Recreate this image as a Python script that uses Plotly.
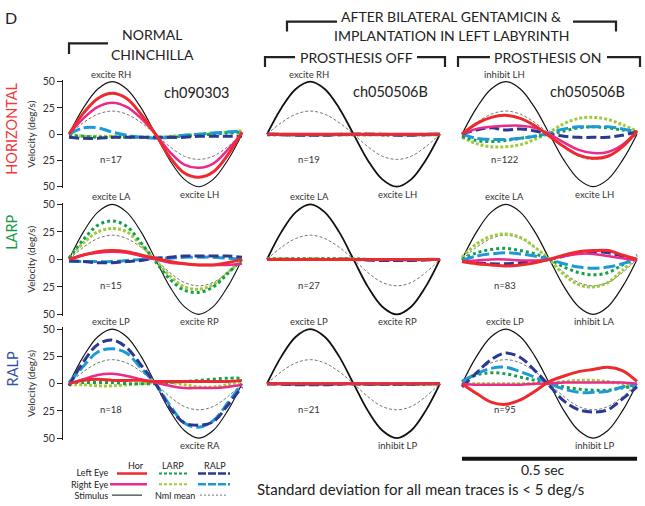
import plotly.graph_objects as go

W, H = 645, 506
FONT = "Lato"

# ---------------- data (deg/s), one full 2 Hz cycle ----------------
T = [0, 0.0417, 0.0833, 0.125, 0.1667, 0.2083, 0.25, 0.2917, 0.3333, 0.375, 0.4167, 0.4583, 0.5]
STIMULUS = [0, 25, 43, 50, 43, 25, 0, -25, -43, -50, -43, -25, 0]
NML_MEAN = [0, 11, 19, 22, 19, 11, 0, -12, -21, -24, -21, -12, 0]

# Row HORIZONTAL -- normal chinchilla
H_NORM_L_HOR = [0, 20, 34, 39, 34, 19, 0, -22, -37, -41, -36, -20, 2]
H_NORM_R_HOR = [0, 15, 26, 30, 26, 15, 0, -17, -29, -32, -28, -15, 1]
H_NORM_L_LARP = [-1, -2, -3, -3, -3, -3, -3, -3, -2, -1, 0, 1, 2]
H_NORM_R_LARP = [0, -2, -2, -2, -2, -3, -3, -2, -1, 0, 1, 2, 3]
H_NORM_L_RALP = [-3, -4, -4, -3, -3, -3, -3, -3, -3, -2, -2, -2, -2]
H_NORM_R_RALP = [0, 6, 6, 2, -1, -3, -4, -3, -1, 0, 1, 2, 3]
# Row HORIZONTAL -- prosthesis off
H_OFF_L_HOR = [0, 0, 0, 0, 0, 0, 0, 0, 0, 0, 0, 0, 0]
H_OFF_R_HOR = [0, 0, 0, 0, 0, 0, 0, 0, 0, 0, 0, 0, 0]
H_OFF_L_LARP = [-0.5, -0.5, -0.5, -0.5, -0.5, -0.5, -0.5, -0.5, -0.5, -0.5, -0.5, -0.5, -0.5]
H_OFF_R_LARP = [-0.5, -0.5, -0.5, -0.5, -0.5, -0.5, -0.5, -0.5, -0.5, -0.5, -0.5, -0.5, -0.5]
H_OFF_L_RALP = [0, -0.5, -1, -1, -1, -0.5, 0, 0, -0.5, -1, -1, -0.5, 0]
H_OFF_R_RALP = [0, 0, -0.5, -0.5, -0.5, 0, 0, 0, 0, -0.5, -0.5, 0, 0]
# Row HORIZONTAL -- prosthesis on
H_ON_L_HOR = [0, 10, 16, 18, 15, 8, -2, -12, -20, -23, -21, -12, 3]
H_ON_R_HOR = [0, 5, 7, 8, 8, 6, 0, -8, -15, -18, -17, -10, 3]
H_ON_L_LARP = [-2, -6, -7, -6, -4, -2, 0, 3, 6, 7, 6, 4, 2]
H_ON_R_LARP = [-3, -9, -12, -12, -10, -5, 2, 10, 15, 16, 14, 9, 3]
H_ON_L_RALP = [0, 4, 6, 4, 5, 3, 0, -2, -3, -3, -3, -1, 2]
H_ON_R_RALP = [0, -4, -5, -5, -4, -2, 1, 5, 7, 7, 7, 5, 2]

# Row LARP -- normal chinchilla
L_NORM_L_HOR = [0, 4, 7, 8, 7, 4, 1, -2, -4, -5, -5, -3, 0]
L_NORM_R_HOR = [0, 4, 6, 7, 6, 3, 0, -3, -4, -5, -5, -5, -4]
L_NORM_L_LARP = [1, 18, 31, 35, 30, 15, -2, -18, -28, -30, -25, -13, 0]
L_NORM_R_LARP = [1, 15, 25, 28, 25, 13, -1, -15, -25, -27, -23, -12, 0]
L_NORM_L_RALP = [-1, -2, -3, -3, -2, -1, 1, 2, 3, 3, 3, 3, 2]
L_NORM_R_RALP = [-2, -2, -2, -2, -1, 0, 1, 1, 2, 2, 2, 1, 0]
# Row LARP -- prosthesis off
L_OFF_L_HOR = [0, 0, 0, 0, 0, 0, 0, 0, 0, 0, 0, 0, 0]
L_OFF_R_HOR = [0, 0, 0, 0, 0, 0, 0, 0, 0, 0, 0, 0, 0]
L_OFF_L_LARP = [0.5, 0.5, 0.5, 0.5, 0.5, 0.5, 0.5, 0, 0, 0, 0, 0, 0]
L_OFF_R_LARP = [0.5, 0.5, 0.5, 0.5, 0.5, 0.5, 0.5, 0, 0, 0, 0, 0, 0]
L_OFF_L_RALP = [0, 0, 0, 0, 0, 0, 0, -0.5, -1, -1, -1, -0.5, 0]
L_OFF_R_RALP = [0, 0, 0, 0, 0, 0, 0, -0.5, -0.5, -0.5, -0.5, 0, 0]
# Row LARP -- prosthesis on
L_ON_L_HOR = [-2, -4, -5, -6, -5, -3, 0, 4, 7, 8, 8, 4, 0]
L_ON_R_HOR = [-2, -1, 0, 0, -1, -1, 0, 3, 5, 5, 3, 1, -1]
L_ON_L_LARP = [0, 6, 9, 10, 8, 5, 0, -7, -12, -14, -12, -5, 4]
L_ON_R_LARP = [2, 14, 21, 23, 20, 11, 0, -14, -23, -25, -21, -10, 2]
L_ON_L_RALP = [-2, -3, -4, -4, -3, -2, 0, 3, 6, 7, 6, 3, 0]
L_ON_R_RALP = [-1, 3, 5, 6, 5, 3, 0, -4, -7, -8, -7, -4, 0]

# Row RALP -- normal chinchilla
R_NORM_L_HOR = [0, 3, 4, 3, 3, 3, 2, 2, 2, 2, 2, 2, 3]
R_NORM_R_HOR = [0, 4, 8, 9, 7, 4, 1, -2, -4, -4, -4, -3, -1]
R_NORM_L_LARP = [1, 1, 1, 1, 0, 0, 0, 1, 2, 3, 4, 5, 5]
R_NORM_R_LARP = [-1, -1, -2, -2, -1, 0, 1, 1, -1, -3, -3, -1, 2]
R_NORM_L_RALP = [-2, 20, 36, 40, 33, 17, 0, -22, -36, -38, -35, -20, -3]
R_NORM_R_RALP = [1, 16, 29, 32, 28, 14, 0, -20, -36, -40, -34, -18, 0]
# Row RALP -- prosthesis off
R_OFF_L_HOR = [0, 0, 0, 0, 0, 0, 0, 0, 0, 0, 0, 0, 0]
R_OFF_R_HOR = [0, 0, 0, 0, 0, 0, 0, 0, 0, 0, 0, 0, 0]
R_OFF_L_LARP = [0, 0, 0, 0, 0, 0, 0, -0.5, -0.5, -0.5, -0.5, -0.5, 0]
R_OFF_R_LARP = [0, 0, 0, 0, 0, 0, 0, -0.5, -0.5, -0.5, -0.5, -0.5, 0]
R_OFF_L_RALP = [0, -0.5, -1, -1, -1, -0.5, 0, -0.5, -0.5, -0.5, -0.5, 0, 0]
R_OFF_R_RALP = [0, 0, -0.5, -0.5, -0.5, 0, 0, 0, 0, 0, 0, 0, 0]
# Row RALP -- prosthesis on
R_ON_L_HOR = [0, -9, -17, -19, -15, -7, 2, 7, 11, 13, 15, 12, 2]
R_ON_R_HOR = [0, -1, -1, -1, -1, 0, 0, 1, 1, 1, 1, 1, 0]
R_ON_L_LARP = [2, 8, 10, 9, 6, 3, 0, -3, -5, -6, -6, -4, -2]
R_ON_R_LARP = [0, 0, 0, 0, 0, 0, 0, 2, 3, 3, 2, 0, -2]
R_ON_L_RALP = [-3, 10, 22, 28, 24, 12, -2, -16, -24, -26, -24, -14, -3]
R_ON_R_RALP = [2, 9, 14, 15, 11, 6, 0, -5, -8, -8, -7, -3, -1]

Y_TICK_VALUES = [50, 25, 0, -25, -50]
Y_TICK_LABELS = ["50", "25", "0", "25", "50"]

PANELS = [
    # (row, col, traces [lhor, rhor, llarp, rlarp, lralp, rralp], top label, bottom label, n label)
    (0, 0, [H_NORM_L_HOR, H_NORM_R_HOR, H_NORM_L_LARP, H_NORM_R_LARP, H_NORM_L_RALP, H_NORM_R_RALP], "excite RH", "excite LH", "n=17"),
    (0, 1, [H_OFF_L_HOR, H_OFF_R_HOR, H_OFF_L_LARP, H_OFF_R_LARP, H_OFF_L_RALP, H_OFF_R_RALP], "excite RH", "excite LH", "n=19"),
    (0, 2, [H_ON_L_HOR, H_ON_R_HOR, H_ON_L_LARP, H_ON_R_LARP, H_ON_L_RALP, H_ON_R_RALP], "inhibit LH", "excite LH", "n=122"),
    (1, 0, [L_NORM_L_HOR, L_NORM_R_HOR, L_NORM_L_LARP, L_NORM_R_LARP, L_NORM_L_RALP, L_NORM_R_RALP], "excite LA", "excite RP", "n=15"),
    (1, 1, [L_OFF_L_HOR, L_OFF_R_HOR, L_OFF_L_LARP, L_OFF_R_LARP, L_OFF_L_RALP, L_OFF_R_RALP], "excite LA", "excite RP", "n=27"),
    (1, 2, [L_ON_L_HOR, L_ON_R_HOR, L_ON_L_LARP, L_ON_R_LARP, L_ON_L_RALP, L_ON_R_RALP], "excite LA", "inhibit LA", "n=83"),
    (2, 0, [R_NORM_L_HOR, R_NORM_R_HOR, R_NORM_L_LARP, R_NORM_R_LARP, R_NORM_L_RALP, R_NORM_R_RALP], "excite LP", "excite RA", "n=18"),
    (2, 1, [R_OFF_L_HOR, R_OFF_R_HOR, R_OFF_L_LARP, R_OFF_R_LARP, R_OFF_L_RALP, R_OFF_R_RALP], "excite LP", "inhibit LP", "n=21"),
    (2, 2, [R_ON_L_HOR, R_ON_R_HOR, R_ON_L_LARP, R_ON_R_LARP, R_ON_L_RALP, R_ON_R_RALP], "excite LP", "inhibit LP", "n=95"),
]

# ---------------- styles ----------------
RED, PINK = "#ee2a2e", "#ec2a8a"
DKGREEN, LTGREEN = "#13a04b", "#9dcb3c"
NAVY, SKY = "#2b3990", "#1d9ad6"
STYLES = [  # same order as traces in PANELS
    dict(color=RED, width=3, dash="solid"),
    dict(color=PINK, width=2.5, dash="solid"),
    dict(color=DKGREEN, width=3, dash="3px,3px"),
    dict(color=LTGREEN, width=3, dash="3px,2px"),
    dict(color=NAVY, width=3, dash="10px,4px"),
    dict(color=SKY, width=3, dash="12px,4px"),
]
DRAW_ORDER = [3, 2, 5, 4, 1, 0]

# pixel layout
COL_X = [(69, 242), (267, 440), (462, 637)]     # x pixels of t=0 .. t=0.5
ROW_Y = [(78, 185), (203, 315), (330, 441)]     # y pixels of +50 .. -50
STIM_W = [1.1, 1.8, 1.2]
PAD_T = 0.01
PAD_V = 1.5

def pxx(x):
    return x / W

def pxy(y):
    return 1 - y / H

fig = go.Figure()
layout = {}
annotations = []

for idx, (r, c, traces, top_lbl, bot_lbl, n_lbl) in enumerate(PANELS):
    k = idx + 1
    xa, ya = f"x{k}", f"y{k}"
    x0, x1 = COL_X[c]
    y50, ym50 = ROW_Y[r]
    sx = (x1 - x0) / 0.5
    sy = (ym50 - y50) / 100.0
    dx0 = pxx(x0 - PAD_T * sx)
    dx1 = pxx(x1 + PAD_T * sx)
    dy0 = pxy(ym50 + PAD_V * sy)
    dy1 = pxy(y50 - PAD_V * sy)
    layout[f"xaxis{k}"] = dict(domain=[dx0, dx1], range=[-PAD_T, 0.5 + PAD_T], visible=False,
                               anchor=ya, fixedrange=True)
    yax = dict(domain=[dy0, dy1], range=[-50 - PAD_V, 50 + PAD_V], anchor=xa,
               showgrid=False, zeroline=False, fixedrange=True)
    if c == 0:
        yax.update(anchor="free", position=pxx(62), showline=True, linecolor="#222", linewidth=1,
                   ticks="outside", ticklen=5, tickcolor="#222", tickwidth=1,
                   tickvals=Y_TICK_VALUES, ticktext=Y_TICK_LABELS,
                   tickfont=dict(family=FONT, size=10.5, color="#333"),
                   title=dict(text="Velocity (deg/s)", font=dict(family=FONT, size=10, color="#333"),
                              standoff=4))
    else:
        yax.update(visible=False)
    layout[f"yaxis{k}"] = yax

    fig.add_trace(go.Scatter(x=T, y=STIMULUS, xaxis=xa, yaxis=ya, mode="lines",
                             line=dict(color="#111", width=STIM_W[c], shape="spline"),
                             showlegend=False, hoverinfo="skip"))
    fig.add_trace(go.Scatter(x=T, y=NML_MEAN, xaxis=xa, yaxis=ya, mode="lines",
                             line=dict(color="#666", width=0.9, dash="3px,2px", shape="spline"),
                             showlegend=False, hoverinfo="skip"))
    for j in DRAW_ORDER:
        st = STYLES[j]
        fig.add_trace(go.Scatter(x=T, y=traces[j], xaxis=xa, yaxis=ya, mode="lines",
                                 line=dict(color=st["color"], width=st["width"], dash=st["dash"],
                                           shape="spline"),
                                 showlegend=False, hoverinfo="skip"))
    lblfont = dict(family=FONT, size=9.5, color="#333")
    annotations.append(dict(text=top_lbl, xref=xa, yref=ya, x=0.122, y=50, yanchor="bottom",
                            yshift=1, showarrow=False, font=lblfont, borderpad=0))
    annotations.append(dict(text=bot_lbl, xref=xa, yref=ya, x=0.378, y=-50, yanchor="top",
                            yshift=-1, showarrow=False, font=lblfont, borderpad=0))
    annotations.append(dict(text=n_lbl, xref=xa, yref=ya, x=0.122, y=-24, yanchor="middle",
                            showarrow=False, font=lblfont, borderpad=0))

def text(t, x, y, size, color="#222", xanchor="center", yanchor="middle", angle=0, align="center"):
    annotations.append(dict(text=t, x=pxx(x), y=pxy(y), xref="paper", yref="paper",
                            xanchor=xanchor, yanchor=yanchor, showarrow=False, textangle=angle,
                            align=align, borderpad=0,
                            font=dict(family=FONT, size=size, color=color)))

# titles
text("D", 11, 13, 16)
text("NORMAL", 152, 30, 14)
text("CHINCHILLA", 152, 50, 14)
text("AFTER BILATERAL GENTAMICIN &amp;", 451, 12, 14)
text("IMPLANTATION IN LEFT LABYRINTH", 451, 31, 14)
text("PROSTHESIS OFF", 356, 53, 14)
text("PROSTHESIS ON", 548, 53, 14)
text("ch090303", 196, 89, 14.5)
text("ch050506B", 390, 88, 14.5)
text("ch050506B", 587, 88, 14.5)
text("HORIZONTAL", 12, 126, 14.5, color="#ee3b3b", angle=-90)
text("LARP", 12, 232, 14.5, color="#1c9a4a", angle=-90)
text("RALP", 12, 371, 14.5, color="#3550a8", angle=-90)

# brackets
shapes = []
def path(points, width=2.2, color="#222"):
    d = "M " + " L ".join(f"{pxx(x):.5f},{pxy(y):.5f}" for x, y in points)
    shapes.append(dict(type="path", path=d, xref="paper", yref="paper",
                       line=dict(color=color, width=width)))

path([(69, 50), (69, 39), (108, 39)])
path([(287, 27), (287, 17), (337, 17)])
path([(573, 17), (616, 17), (616, 27)])
path([(265, 63), (265, 53), (295, 53)])
path([(417, 53), (445, 53), (445, 63)])
path([(458, 63), (458, 53), (490, 53)])
path([(607, 53), (640, 53), (640, 63)])

# scale bar through the right-column time axis
shapes.append(dict(type="line", xref="x9", yref="paper", x0=0, x1=0.5,
                   y0=pxy(462), y1=pxy(462), line=dict(color="#111", width=4)))
text("0.5 sec", 543, 473, 14)
text("Standard deviation for all mean traces is &lt; 5 deg/s", 420, 493, 15)

# legend key
lf = 9
text("Hor", 136, 469, lf)
text("LARP", 173, 469, lf)
text("RALP", 215, 469, lf)
text("Left Eye<br>Right Eye<br>Stimulus", 109, 487.5, lf, xanchor="right", align="right")
text("Nml mean", 175, 499, lf)

def seg(x0, x1, y, color, width, dash="solid"):
    shapes.append(dict(type="line", xref="paper", yref="paper", x0=pxx(x0), x1=pxx(x1),
                       y0=pxy(y), y1=pxy(y), line=dict(color=color, width=width, dash=dash)))

seg(117, 147, 477, RED, 2.5)
seg(110, 147, 488, PINK, 2.5)
seg(112, 142, 499, "#111", 1)
seg(159, 188, 477, DKGREEN, 2, "3px,2px")
seg(159, 188, 488, LTGREEN, 2, "3px,2px")
seg(198, 230, 477, NAVY, 2.5, "8px,2px")
seg(198, 230, 488, SKY, 2.5, "8px,2px")
seg(200, 228, 499, "#666", 0.9, "2px,2px")

layout.update(width=W, height=H, margin=dict(l=0, r=0, t=0, b=0),
              paper_bgcolor="white", plot_bgcolor="white", showlegend=False,
              annotations=annotations, shapes=shapes, font=dict(family=FONT))
fig.update_layout(**layout)
fig.write_html("out.html", config={"displayModeBar": False},
               post_script="document.body.style.margin='0';document.body.style.padding='0';")
